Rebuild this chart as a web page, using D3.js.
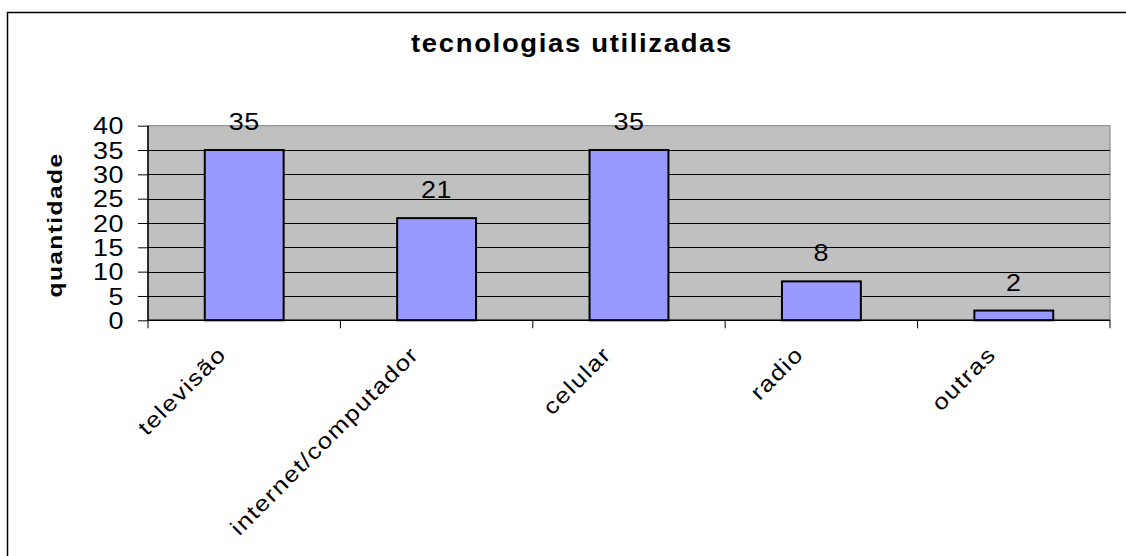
<!DOCTYPE html>
<html><head><meta charset="utf-8">
<script src="https://cdn.jsdelivr.net/npm/d3@7"></script>
<style>body{margin:0;background:#fff}svg{display:block}text{font-family:"Liberation Sans",Arial,sans-serif}</style>
</head><body>
<svg id="c" width="1126" height="556"></svg>
<script>
const categories = ["televisão","internet/computador","celular","radio","outras"];
const values = [35,21,35,8,2];
const yTicks = [0,5,10,15,20,25,30,35,40];
const title = "tecnologias utilizadas";
const yTitle = "quantidade";

const svg = d3.select("#c");
const m = {left:148, right:1110, top:125.7, bottom:320.3};
const SX = 1.17; // horizontal glyph stretch seen in the reference

svg.append("rect").attr("x",7.5).attr("y",12.5).attr("width",1130).attr("height",560)
  .attr("fill","#fff").attr("stroke","#000").attr("stroke-width",1.5);

const x = d3.scaleBand().domain(categories).range([m.left,m.right]).paddingInner(0).paddingOuter(0);
const y = d3.scaleLinear().domain([0,40]).range([m.bottom,m.top]);

svg.append("rect").attr("x",m.left).attr("y",m.top).attr("width",m.right-m.left).attr("height",m.bottom-m.top)
  .attr("fill","#c0c0c0").attr("stroke","#808080").attr("stroke-width",1);

// gridlines
svg.append("g").selectAll("line").data(yTicks.filter(d=>d>0 && d<40)).join("line")
  .attr("x1",m.left).attr("x2",m.right).attr("y1",d=>Math.round(y(d))+0.5).attr("y2",d=>Math.round(y(d))+0.5)
  .attr("stroke","#000").attr("stroke-width",1);

// bars
const bw = x.bandwidth()*0.41;
svg.append("g").selectAll("rect").data(values).join("rect")
  .attr("x",(d,i)=>x(categories[i])+x.bandwidth()/2-bw/2)
  .attr("y",d=>y(d)).attr("width",bw).attr("height",d=>y(0)-y(d))
  .attr("fill","#9999ff").attr("stroke","#000").attr("stroke-width",2);

// y axis
const ya = svg.append("g").attr("transform",`translate(${m.left},0)`)
  .call(d3.axisLeft(y).tickValues(yTicks).tickSize(10).tickPadding(14));
ya.select(".domain").attr("stroke","#000").attr("stroke-width",1.5).attr("d",`M0,${m.top}V${m.bottom}`);
ya.selectAll(".tick text").attr("x",0).attr("dy","0.36em")
  .attr("transform",`translate(-24,0) scale(${SX},1)`)
  .attr("font-size",23).attr("fill","#000").attr("letter-spacing",0.5);
ya.selectAll(".tick line").attr("stroke","#000");

// x axis
const xa = svg.append("g").attr("transform",`translate(0,${m.bottom})`)
  .call(d3.axisBottom(x).tickSize(0).tickFormat(""));
xa.select(".domain").attr("stroke","#000").attr("stroke-width",1.5).attr("d",`M${m.left},0H${m.right}`);
const bounds = categories.map(c=>x(c)).concat([m.right]);
svg.append("g").selectAll("line").data(bounds).join("line")
  .attr("x1",d=>d).attr("x2",d=>d).attr("y1",m.bottom).attr("y2",m.bottom+8)
  .attr("stroke","#000").attr("stroke-width",1);

// x labels
svg.append("g").selectAll("text").data(categories).join("text")
  .attr("transform",d=>`translate(${x(d)+x.bandwidth()/2-22},${m.bottom+30}) rotate(-45) scale(${SX},1)`)
  .attr("text-anchor","end").attr("dy","0.35em").attr("font-size",22).attr("letter-spacing",1.2)
  .text(d=>d);

// value labels
svg.append("g").selectAll("text").data(values).join("text")
  .attr("transform",(d,i)=>`translate(${x(categories[i])+x.bandwidth()/2},${y(d)-20}) scale(${SX},1)`)
  .attr("text-anchor","middle").attr("font-size",23).attr("letter-spacing",0.5).text(d=>d);

// title
svg.append("text").attr("transform",`translate(572,52) scale(1.1,1)`).attr("text-anchor","middle")
  .attr("font-size",25).attr("font-weight","bold").attr("letter-spacing",1.5).text(title);

svg.append("text").attr("transform",`translate(62,225) rotate(-90) scale(${SX},1)`).attr("text-anchor","middle")
  .attr("font-size",21).attr("font-weight","bold").attr("letter-spacing",1.2).text(yTitle);
</script>
</body></html>
